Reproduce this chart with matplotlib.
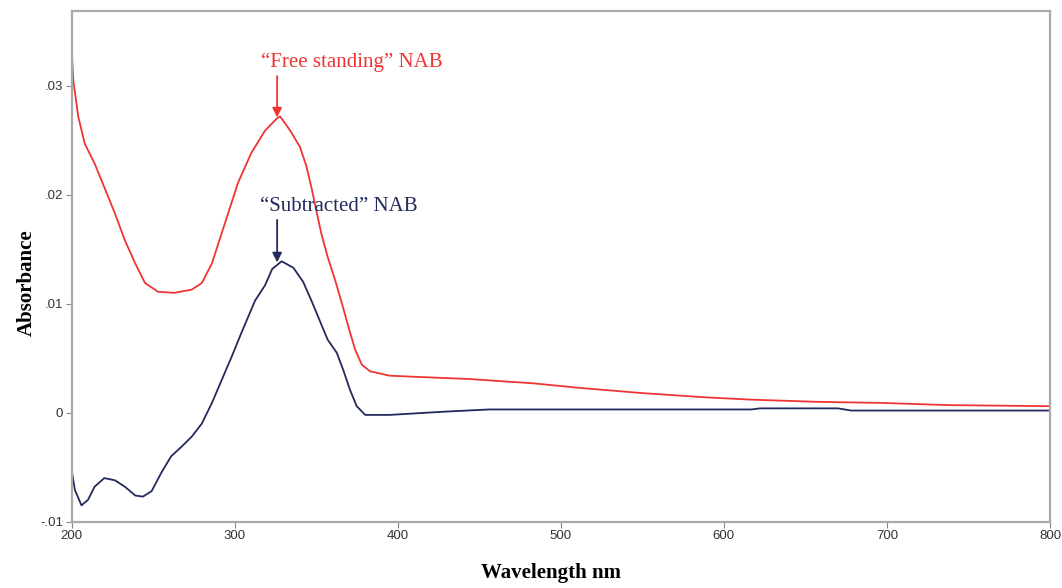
"""
UV-vis absorbance spectra of NAB, free standing vs subtracted.
"""

import matplotlib
matplotlib.use('Agg')
import matplotlib.pyplot as plt

# "Free standing" NAB spectrum (red)
free_nm = [200, 201, 204, 208, 214, 220, 226.5, 232.7, 239, 245, 253, 263, 273.6,
           279.8, 286, 294, 302, 310, 318.6, 325.8, 327.8, 334, 340, 344, 347, 350,
           353, 357, 361.5, 365.6, 369.7, 373.8, 378, 383, 395, 410, 443, 483, 510,
           550, 590, 617, 657, 697, 737, 800]
free_abs = [0.0333, 0.0305, 0.0272, 0.0247, 0.0229, 0.0207, 0.0183, 0.0158, 0.0137,
            0.0119, 0.0111, 0.0110, 0.0113, 0.0119, 0.0137, 0.0174, 0.0211, 0.0238,
            0.0259, 0.0270, 0.0272, 0.0259, 0.0244, 0.0226, 0.0207, 0.0186, 0.0165,
            0.0143, 0.0122, 0.0101, 0.0079, 0.0058, 0.0044, 0.0038, 0.0034, 0.0033,
            0.0031, 0.0027, 0.0023, 0.0018, 0.0014, 0.0012, 0.0010, 0.0009, 0.0007,
            0.0006]

# "Subtracted" NAB spectrum (navy)
sub_nm = [200, 202, 206, 210, 214, 220, 226.5, 232.7, 239, 243.7, 249, 255, 261,
          267.5, 273.6, 279.8, 286, 292, 298, 304, 312.5, 318.6, 323, 328.8, 336,
          342, 347, 352, 357, 362.6, 366.6, 370.7, 374.8, 380, 395, 429, 456, 500,
          617, 622, 670, 678, 800]
sub_abs = [-0.0053, -0.0071, -0.0085, -0.0080, -0.0068, -0.0060, -0.0062, -0.0068,
           -0.0076, -0.0077, -0.0072, -0.0055, -0.0040, -0.0031, -0.0022, -0.0010,
           0.0009, 0.0030, 0.0051, 0.0073, 0.0103, 0.0117, 0.0132, 0.0139, 0.0133,
           0.0120, 0.0103, 0.0085, 0.0067, 0.0055, 0.0039, 0.0021, 0.0006, -0.0002,
           -0.0002, 0.0001, 0.0003, 0.0003, 0.0003, 0.0004, 0.0004, 0.0002, 0.0002]

x_ticks = [200, 300, 400, 500, 600, 700, 800]
y_ticks = [-0.01, 0, 0.01, 0.02, 0.03]
y_tick_labels = ['-.01', '0', '.01', '.02', '.03']

# annotation: (label, x of peak, y of peak, text x, text y)
free_label = ('\u201cFree standing\u201d NAB', 326, 0.0271, 372, 0.0313)
sub_label = ('\u201cSubtracted\u201d NAB', 326, 0.0138, 364, 0.0181)

RED = '#ee3535'
NAVY = '#232a5c'
serif = ['Liberation Serif', 'DejaVu Serif']

fig = plt.figure(figsize=(10.62, 5.88), dpi=100)
ax = fig.add_axes([0.0675, 0.1128, 0.9212, 0.869])

ax.plot(free_nm, free_abs, color=RED, lw=1.3)
ax.plot(sub_nm, sub_abs, color=NAVY, lw=1.3)

ax.set_xlim(200, 800)
ax.set_ylim(-0.01, 0.0369)
ax.set_xticks(x_ticks)
ax.set_xticklabels([str(t) for t in x_ticks])
ax.set_yticks(y_ticks)
ax.set_yticklabels(y_tick_labels)
ax.tick_params(direction='out', length=4, width=0.8, color='#888888',
               labelsize=9.5, labelcolor='#333333', pad=2)
for lab in ax.get_xticklabels() + ax.get_yticklabels():
    lab.set_family(['Liberation Sans', 'DejaVu Sans'])

for side in ax.spines.values():
    side.set_color('#aaaaaa')
    side.set_linewidth(1.6)

ax.set_xlabel('Wavelength nm', family=serif, fontweight='bold', fontsize=15)
ax.set_ylabel('Absorbance', family=serif, fontweight='bold', fontsize=15)
ax.xaxis.set_label_coords(0.49, -0.08)
ax.yaxis.set_label_coords(-0.036, 0.468)

# Loop over annotations and draw label + arrow pointing at each peak.
for (txt, px, py, tx, ty), col in [(free_label, RED), (sub_label, NAVY)]:
    ax.text(tx, ty, txt, color=col, family=serif, fontsize=15, ha='center', va='bottom')
    ax.annotate('', xy=(px, py), xytext=(px, ty - 0.0004),
                arrowprops=dict(arrowstyle='-|>', color=col, lw=1.3,
                                mutation_scale=14, shrinkA=0, shrinkB=0))

plt.savefig('out.png', dpi=100)
